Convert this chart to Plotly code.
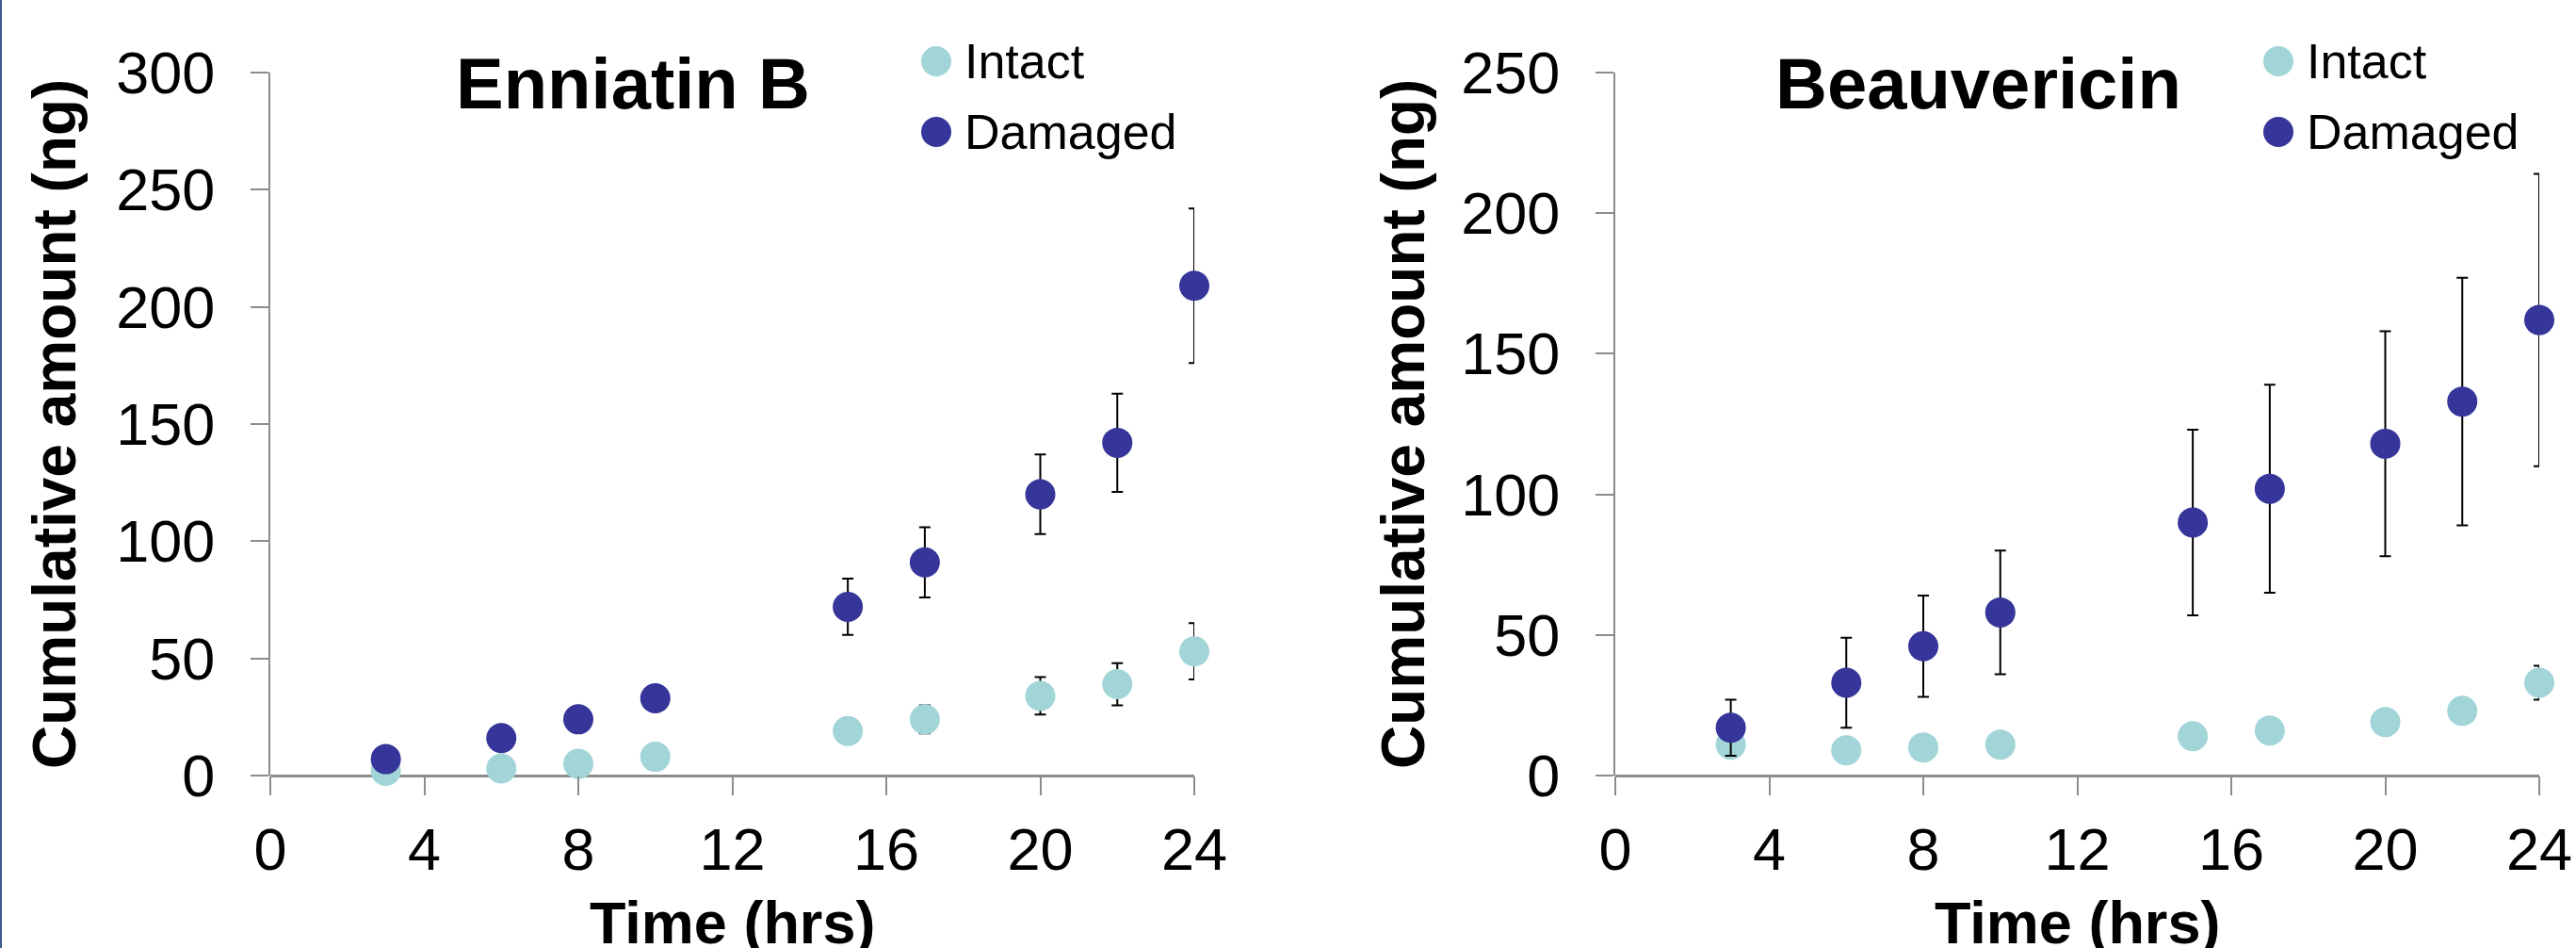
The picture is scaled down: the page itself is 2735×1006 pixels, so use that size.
import plotly.graph_objects as go

W, H = 2735, 1006

# ---- data ----
time_hrs = [3, 6, 8, 10, 15, 17, 20, 22, 24]

enn_intact = [2, 3, 5, 8, 19, 24, 34, 39, 53]
enn_intact_err = [1, 1, 1, 2, 3, 6, 8, 9, 12]
enn_damaged = [7, 16, 24, 33, 72, 91, 120, 142, 209]
enn_damaged_err = [1, 2, 2, 3, 12, 15, 17, 21, 33]

bea_intact = [11, 9, 10, 11, 14, 16, 19, 23, 33]
bea_intact_err = [1, 1, 1, 1, 2, 2, 3, 3, 6]
bea_damaged = [17, 33, 46, 58, 90, 102, 118, 133, 162]
bea_damaged_err = [10, 16, 18, 22, 33, 37, 40, 44, 52]

x_ticks = [0, 4, 8, 12, 16, 20, 24]
enn_y_ticks = [0, 50, 100, 150, 200, 250, 300]
bea_y_ticks = [0, 50, 100, 150, 200, 250]

panel_titles = ["Enniatin B", "Beauvericin"]
series_names = ["Intact", "Damaged"]
x_title = "Time (hrs)"
y_title = "Cumulative amount (ng)"

# ---- style ----
C_INTACT = "#A2D5D8"
C_DAMAGED = "#35359A"
AXIS_C = "#8C8C8C"
FONT = "Liberation Sans, Arial, sans-serif"

def px(x):
    return x / W

def py(y):
    return 1 - y / H

fig = go.Figure()

def add_series(xa, ya, vals, errs, color, name):
    fig.add_trace(go.Scatter(
        x=time_hrs, y=vals, mode="markers", name=name, showlegend=False,
        xaxis=xa, yaxis=ya, cliponaxis=False,
        marker=dict(size=32, color=color, line=dict(width=0)),
        error_y=dict(type="data", array=errs, visible=True, color="black",
                     thickness=2, width=6),
    ))

add_series("x", "y", enn_intact, enn_intact_err, C_INTACT, series_names[0])
add_series("x", "y", enn_damaged, enn_damaged_err, C_DAMAGED, series_names[1])
add_series("x2", "y2", bea_intact, bea_intact_err, C_INTACT, series_names[0])
add_series("x2", "y2", bea_damaged, bea_damaged_err, C_DAMAGED, series_names[1])

ydom = [py(823), py(77)]
xdom1 = [px(287), px(1268)]
xdom2 = [px(1715), px(2696)]

def xaxis(dom, anchor):
    return dict(domain=dom, anchor=anchor, range=[0, 24], tickvals=x_ticks,
                showline=False, zeroline=False, showgrid=False, automargin=False,
                ticks="outside", ticklen=20, tickwidth=2, tickcolor=AXIS_C,
                tickfont=dict(family=FONT, size=63, color="black"),
                ticklabelstandoff=3)

def yaxis(rng, tv, anchor):
    return dict(domain=ydom, anchor=anchor, range=rng, tickvals=tv,
                showline=True, linecolor=AXIS_C, linewidth=2,
                zeroline=True, zerolinecolor=AXIS_C, zerolinewidth=3,
                showgrid=False, automargin=False,
                ticks="outside", ticklen=19, tickwidth=2, tickcolor=AXIS_C,
                tickfont=dict(family=FONT, size=63, color="black"),
                ticklabelstandoff=25)

fig.update_layout(
    width=W, height=H,
    margin=dict(l=0, r=0, t=0, b=0, pad=0, autoexpand=False),
    paper_bgcolor="white", plot_bgcolor="rgba(0,0,0,0)",
    xaxis=xaxis(xdom1, "y"), yaxis=yaxis([0, 300], enn_y_ticks, "x"),
    xaxis2=xaxis(xdom2, "y2"), yaxis2=yaxis([0, 250], bea_y_ticks, "x2"),
    showlegend=False,
)

annotations = []
shapes = []

# panel titles
for cx, t in [(672, panel_titles[0]), (2100, panel_titles[1])]:
    annotations.append(dict(x=px(cx), y=py(88), xref="paper", yref="paper",
                            text=t, showarrow=False, xanchor="center", yanchor="middle",
                            font=dict(family=FONT, size=76, color="black", weight="bold")))

# axis titles
for cx in [777, 2205]:
    annotations.append(dict(x=px(cx), y=py(979), xref="paper", yref="paper",
                            text=x_title, showarrow=False, xanchor="center", yanchor="middle",
                            font=dict(family=FONT, size=63, color="black", weight="bold")))
for cx in [58, 1490]:
    annotations.append(dict(x=px(cx), y=py(450), xref="paper", yref="paper",
                            text=y_title, showarrow=False, textangle=-90,
                            xanchor="center", yanchor="middle",
                            font=dict(family=FONT, size=64, color="black", weight="bold")))

# legends
for mx in [994, 2419]:
    for my, color, name in [(65, C_INTACT, series_names[0]), (140, C_DAMAGED, series_names[1])]:
        shapes.append(dict(type="circle", xref="paper", yref="paper",
                           xsizemode="pixel", ysizemode="pixel",
                           xanchor=px(mx), yanchor=py(my),
                           x0=-16, x1=16, y0=-16, y1=16,
                           fillcolor=color, line=dict(width=0)))
        annotations.append(dict(x=px(mx + 28), y=py(my), xref="paper", yref="paper",
                                text=name, showarrow=False, xanchor="left", yanchor="middle",
                                font=dict(family=FONT, size=52, color="black")))

# left border line
shapes.append(dict(type="line", xref="paper", yref="paper", x0=px(1), x1=px(1),
                   y0=0, y1=1, line=dict(color="#3A5A8C", width=2)))

fig.update_layout(annotations=annotations, shapes=shapes)

fig.write_html(
    "out.html",
    config={"displayModeBar": False},
    post_script="document.body.style.margin='0';document.body.style.overflow='hidden';",
)
